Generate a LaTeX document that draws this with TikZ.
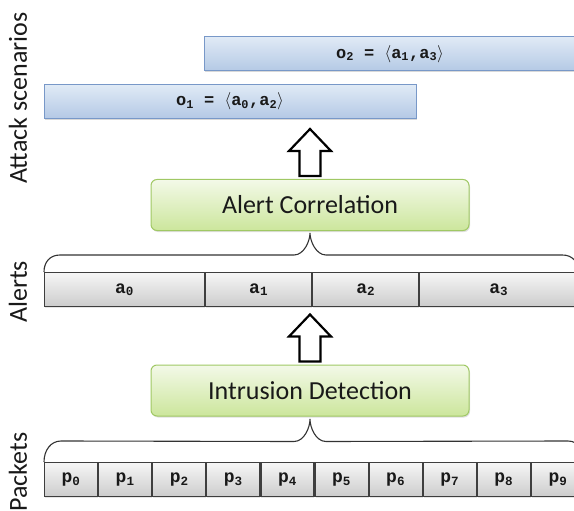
\documentclass[tikz,border=0pt]{standalone}
\usepackage{fontspec}
\setmainfont{Carlito}
\newfontfamily\monof{Liberation Mono}
\usetikzlibrary{calc,shadows}
\definecolor{bluetop}{RGB}{224,234,246}
\definecolor{bluebot}{RGB}{180,201,229}
\definecolor{bluebd}{RGB}{120,152,200}
\definecolor{greentop}{RGB}{243,249,232}
\definecolor{greenbot}{RGB}{204,230,156}
\definecolor{greenbd}{RGB}{160,200,100}
\definecolor{celltop}{RGB}{246,246,246}
\definecolor{cellbot}{RGB}{204,204,204}
\definecolor{cellbd}{RGB}{62,62,62}
\definecolor{txt}{RGB}{25,25,25}
\begin{document}
\begin{tikzpicture}[x=1pt,y=-1pt,
  lab/.style={font=\fontsize{26}{30}\selectfont, text=txt, inner sep=0pt, rotate=90},
  obox/.style={draw=bluebd, line width=1pt, top color=bluetop, bottom color=bluebot,
    minimum height=34pt, inner sep=0pt, text=txt, font=\fontsize{17}{20}\selectfont\monof\bfseries,
    drop shadow={opacity=0.3, shadow xshift=1pt, shadow yshift=-1.5pt}},
  gbox/.style={draw=greenbd, line width=1pt, top color=greentop, bottom color=greenbot,
    rounded corners=6pt, minimum width=318pt, minimum height=51pt, inner sep=0pt,
    text=txt, font=\fontsize{26}{30}\selectfont,
    drop shadow={opacity=0.25, shadow xshift=1pt, shadow yshift=-1.5pt}},
  cell/.style={draw=cellbd, line width=1.1pt, top color=celltop, bottom color=cellbot,
    minimum height=34pt, inner sep=0pt, anchor=north west, text=txt,
    font=\fontsize{18}{20}\selectfont\monof\bfseries,
    drop shadow={opacity=0.2, shadow xshift=0.5pt, shadow yshift=-1.5pt}},
  pcell/.style={cell, minimum width=53pt},
  brace/.style={draw=black!80, line width=1.1pt},
  hollow/.style={draw=black, line width=2.2pt, fill=white, line join=miter}
]
\useasboundingbox (0,0) rectangle (574,511);

% side labels
\node[lab] (lsc) at (18,98) {Attack scenarios};
\node[lab] (lal) at (18,292) {Alerts};
\node[lab] (lpk) at (18,472) {Packets};

% attack scenarios
\node[obox, minimum width=372pt] (o2) at (390,54) {o\textsubscript{2} = $\langle$a\textsubscript{1},a\textsubscript{3}$\rangle$};
\node[obox, minimum width=372pt] (o1) at (230,101.5) {o\textsubscript{1} = $\langle$a\textsubscript{0},a\textsubscript{2}$\rangle$};

% processing boxes
\node[gbox] (ac) at (310,205) {Alert Correlation};
\node[gbox] (id) at (310,390.5) {Intrusion Detection};

% alerts row
\node[cell, minimum width=160pt] (a0) at (44,272) {a\textsubscript{0}};
\node[cell, minimum width=106pt] (a1) at (a0.north east) {a\textsubscript{1}};
\node[cell, minimum width=106pt] (a2) at (a1.north east) {a\textsubscript{2}};
\node[cell, minimum width=158pt] (a3) at (a2.north east) {a\textsubscript{3}};

% packets row
\node[pcell] (p0) at (44,462) {p\textsubscript{0}};
\foreach \i [count=\j from 0] in {1,...,9}{
  \node[pcell] (p\i) at (p\j.north east) {p\textsubscript{\i}};
}

% braces
\draw[brace] (a0.north west) .. controls +(0,-10) and +(-10,0) .. ($(a0.north west)+(16,-17)$)
  -- ($(ac.south)+(-16,24)$) .. controls +(10,0) and +(0,8) .. ($(ac.south)+(0,2)$)
  .. controls +(0,8) and +(-10,0) .. ($(ac.south)+(16,24)$)
  -- ($(a3.north east)+(-16,-17)$) .. controls +(10,0) and +(0,-10) .. (a3.north east);
\draw[brace] (p0.north west) .. controls +(0,-12) and +(-10,0) .. ($(p0.north west)+(17,-21)$)
  -- ($(id.south)+(-16,25)$) .. controls +(10,0) and +(0,9) .. ($(id.south)+(0,2.5)$)
  .. controls +(0,9) and +(-10,0) .. ($(id.south)+(16,25)$)
  -- ($(p9.north east)+(-17,-21)$) .. controls +(10,0) and +(0,-12) .. (p9.north east);

% hollow block arrows
\coordinate (b1) at ($(ac.north)+(0,-3)$);
\draw[hollow] (b1) +(-10.5,0) -- +(-10.5,-25) -- +(-21,-25) -- +(0,-47) -- +(21,-25) -- +(10.5,-25) -- +(10.5,0) -- cycle;
\coordinate (b2) at ($(id.north)+(0,-3)$);
\draw[hollow] (b2) +(-10.5,0) -- +(-10.5,-25) -- +(-21,-25) -- +(0,-47) -- +(21,-25) -- +(10.5,-25) -- +(10.5,0) -- cycle;
\end{tikzpicture}
\end{document}
